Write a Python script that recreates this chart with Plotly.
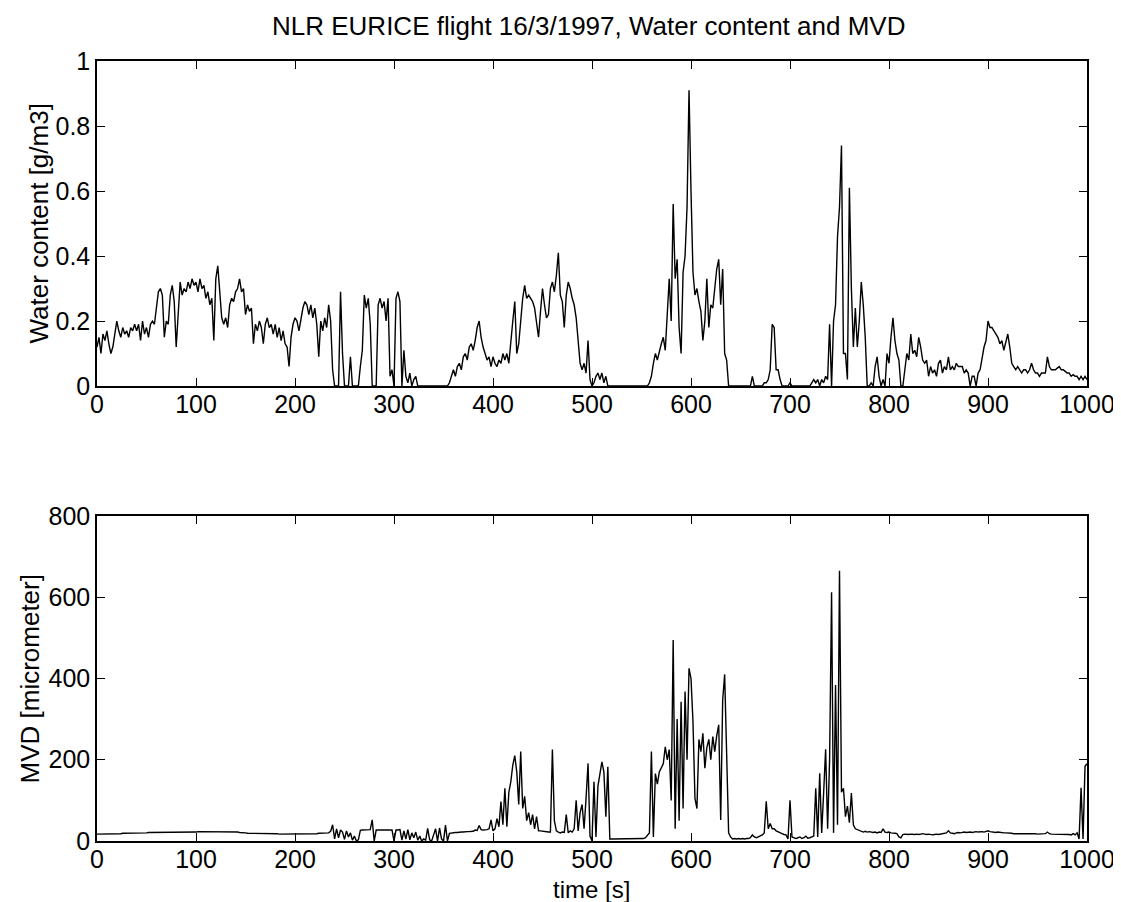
import plotly.graph_objects as go

# sample times [s] (2 s grid, 0..1000)
time_s = [2 * i for i in range(501)]

# Water content [g/m3], one row = 20 s
water_content = [
    0.12, 0.15, 0.10, 0.16, 0.14, 0.17, 0.13, 0.10, 0.12, 0.16,
    0.20, 0.17, 0.15, 0.18, 0.16, 0.17, 0.15, 0.18, 0.17, 0.19,
    0.17, 0.19, 0.14, 0.20, 0.16, 0.18, 0.15, 0.19, 0.20, 0.19,
    0.24, 0.29, 0.30, 0.28, 0.15, 0.20, 0.19, 0.28, 0.31, 0.26,
    0.12, 0.22, 0.32, 0.28, 0.30, 0.29, 0.32, 0.30, 0.33, 0.31,
    0.32, 0.29, 0.33, 0.30, 0.31, 0.27, 0.29, 0.25, 0.27, 0.14,
    0.33, 0.37, 0.30, 0.21, 0.19, 0.21, 0.18, 0.25, 0.27, 0.26,
    0.29, 0.30, 0.33, 0.29, 0.30, 0.22, 0.25, 0.23, 0.24, 0.13,
    0.19, 0.17, 0.20, 0.18, 0.13, 0.19, 0.21, 0.18, 0.19, 0.16,
    0.19, 0.15, 0.18, 0.14, 0.17, 0.13, 0.12, 0.06, 0.15, 0.19,
    0.21, 0.20, 0.17, 0.21, 0.24, 0.26, 0.25, 0.22, 0.25, 0.21,
    0.24, 0.19, 0.09, 0.20, 0.17, 0.21, 0.18, 0.25, 0.20, 0.05,
    0.00, 0.00, 0.00, 0.29, 0.10, 0.00, 0.00, 0.00, 0.09, 0.00,
    0.00, 0.00, 0.00, 0.06, 0.11, 0.28, 0.24, 0.27, 0.19, 0.00,
    0.00, 0.00, 0.25, 0.27, 0.24, 0.26, 0.20, 0.27, 0.03, 0.05,
    0.00, 0.27, 0.29, 0.26, 0.00, 0.11, 0.03, 0.01, 0.04, 0.00,
    0.02, 0.03, 0.00, 0.00, 0.00, 0.00, 0.00, 0.00, 0.00, 0.00,
    0.00, 0.00, 0.00, 0.00, 0.00, 0.00, 0.00, 0.00, 0.01, 0.03,
    0.05, 0.03, 0.06, 0.07, 0.05, 0.09, 0.10, 0.08, 0.12, 0.13,
    0.11, 0.14, 0.18, 0.20, 0.15, 0.12, 0.10, 0.08, 0.09, 0.06,
    0.09, 0.07, 0.06, 0.08, 0.07, 0.10, 0.08, 0.10, 0.07, 0.15,
    0.20, 0.26, 0.10, 0.13, 0.20, 0.27, 0.31, 0.27, 0.28, 0.27,
    0.26, 0.24, 0.19, 0.15, 0.23, 0.30, 0.25, 0.21, 0.22, 0.30,
    0.32, 0.29, 0.34, 0.41, 0.28, 0.26, 0.18, 0.28, 0.32, 0.30,
    0.27, 0.25, 0.21, 0.15, 0.07, 0.05, 0.07, 0.04, 0.14, 0.02,
    0.00, 0.01, 0.03, 0.04, 0.02, 0.04, 0.01, 0.03, 0.00, 0.00,
    0.00, 0.00, 0.00, 0.00, 0.00, 0.00, 0.00, 0.00, 0.00, 0.00,
    0.00, 0.00, 0.00, 0.00, 0.00, 0.00, 0.00, 0.00, 0.00, 0.01,
    0.03, 0.07, 0.10, 0.08, 0.11, 0.13, 0.15, 0.11, 0.22, 0.33,
    0.20, 0.56, 0.33, 0.39, 0.18, 0.10, 0.35, 0.40, 0.55, 0.91,
    0.60, 0.35, 0.28, 0.30, 0.26, 0.23, 0.14, 0.20, 0.33, 0.18,
    0.25, 0.24, 0.30, 0.36, 0.39, 0.25, 0.36, 0.10, 0.08, 0.00,
    0.00, 0.00, 0.00, 0.00, 0.00, 0.00, 0.00, 0.00, 0.00, 0.00,
    0.00, 0.03, 0.00, 0.00, 0.00, 0.00, 0.00, 0.01, 0.01, 0.02,
    0.05, 0.19, 0.18, 0.05, 0.05, 0.02, 0.00, 0.00, 0.00, 0.00,
    0.01, 0.00, 0.00, 0.00, 0.00, 0.00, 0.00, 0.00, 0.00, 0.00,
    0.00, 0.01, 0.02, 0.01, 0.02, 0.00, 0.02, 0.01, 0.03, 0.02,
    0.19, 0.00, 0.20, 0.25, 0.46, 0.55, 0.74, 0.10, 0.10, 0.02,
    0.61, 0.30, 0.12, 0.24, 0.12, 0.20, 0.32, 0.25, 0.15, 0.00,
    0.00, 0.01, 0.00, 0.06, 0.09, 0.03, 0.00, 0.02, 0.00, 0.10,
    0.07, 0.15, 0.21, 0.14, 0.10, 0.08, 0.00, 0.00, 0.05, 0.10,
    0.08, 0.16, 0.10, 0.11, 0.09, 0.15, 0.12, 0.08, 0.07, 0.08,
    0.03, 0.06, 0.04, 0.05, 0.03, 0.07, 0.08, 0.04, 0.06, 0.05,
    0.09, 0.05, 0.06, 0.05, 0.07, 0.06, 0.06, 0.06, 0.04, 0.05,
    0.04, 0.00, 0.03, 0.03, 0.00, 0.04, 0.05, 0.09, 0.12, 0.14,
    0.20, 0.18, 0.18, 0.17, 0.16, 0.15, 0.13, 0.14, 0.11, 0.14,
    0.16, 0.12, 0.07, 0.06, 0.05, 0.06, 0.05, 0.04, 0.05, 0.05,
    0.04, 0.05, 0.07, 0.05, 0.04, 0.04, 0.03, 0.04, 0.04, 0.04,
    0.09, 0.06, 0.05, 0.05, 0.05, 0.055, 0.06, 0.05, 0.05, 0.045,
    0.04, 0.04, 0.03, 0.035, 0.03, 0.03, 0.02, 0.03, 0.02, 0.03,
    0.02,
]

# MVD [micrometer], one row = 20 s
mvd_um = [
    17, 17, 17, 18, 18, 18, 18, 18, 18, 18,
    18, 18, 18, 19, 19, 19, 19, 19, 19, 20,
    20, 20, 20, 20, 20, 20, 21, 21, 21, 21,
    21, 21, 21, 21, 22, 22, 22, 22, 22, 22,
    22, 22, 22, 22, 22, 21, 21, 21, 21, 21,
    22, 23, 23, 23, 23, 23, 23, 23, 23, 23,
    23, 23, 23, 23, 23, 23, 23, 23, 23, 23,
    23, 22, 21, 21, 20, 20, 19, 19, 19, 18,
    18, 18, 18, 18, 18, 18, 18, 18, 18, 18,
    18, 18, 17, 17, 17, 17, 17, 17, 17, 17,
    17, 17, 17, 17, 17, 17, 18, 18, 18, 18,
    18, 18, 19, 19, 19, 19, 19, 20, 24, 40,
    5, 30, 8, 27, 22, 4, 25, 10, 20, 2,
    12, 0, 3, 26, 27, 27, 27, 27, 28, 52,
    0, 27, 27, 27, 27, 27, 27, 27, 27, 27,
    0, 27, 27, 28, 2, 25, 5, 28, 3, 20,
    8, 22, 2, 12, 0, 5, 2, 31, 3, 0,
    15, 30, 0, 32, 5, 0, 39, 0, 19, 20,
    20, 21, 21, 22, 22, 22, 23, 23, 23, 23,
    24, 27, 26, 38, 28, 27, 27, 28, 30, 52,
    25, 30, 55, 35, 97, 40, 130, 35, 120, 146,
    187, 210, 170, 90, 220, 80, 110, 50, 70, 40,
    65, 30, 60, 25, 25, 24, 23, 22, 22, 22,
    225, 50, 25, 22, 20, 22, 21, 65, 20, 25,
    22, 30, 100, 25, 70, 90, 30, 105, 191, 12,
    0, 146, 10, 135, 170, 195, 170, 60, 183, 5,
    5, 5, 5, 5, 5, 5, 5, 5, 5, 5,
    5, 5, 5, 5, 5, 5, 6, 8, 15, 20,
    220, 10, 166, 140, 170, 180, 190, 232, 200, 225,
    100, 495, 30, 300, 50, 343, 80, 368, 200, 425,
    400, 294, 105, 80, 250, 220, 265, 179, 230, 250,
    200, 257, 220, 260, 286, 52, 347, 410, 179, 20,
    10, 5, 6, 5, 6, 5, 6, 5, 6, 6,
    8, 15, 10, 8, 10, 12, 15, 20, 98, 30,
    43, 30, 30, 25, 22, 20, 18, 16, 15, 5,
    100, 10, 8, 6, 8, 10, 6, 8, 12, 7,
    8, 10, 12, 130, 10, 167, 20, 120, 226, 30,
    200, 612, 20, 384, 40, 665, 120, 130, 60, 86,
    45, 118, 40, 30, 28, 26, 25, 22, 24, 22,
    23, 22, 21, 22, 20, 22, 21, 30, 22, 21,
    22, 20, 20, 19, 18, 10, 8, 16, 17, 16,
    16, 17, 16, 16, 17, 16, 17, 18, 17, 16,
    17, 16, 15, 16, 17, 16, 17, 18, 19, 20,
    25, 20, 19, 18, 20, 21, 20, 21, 22, 21,
    22, 22, 21, 22, 23, 22, 23, 23, 22, 23,
    25, 23, 22, 22, 21, 22, 21, 21, 20, 20,
    20, 19, 19, 18, 18, 18, 19, 18, 18, 18,
    18, 18, 18, 18, 18, 17, 17, 18, 17, 18,
    22, 18, 17, 17, 17, 16, 16, 17, 16, 16,
    16, 16, 15, 18, 15, 20, 5, 131, 5, 184,
    190,
]

title_text = "NLR EURICE flight 16/3/1997, Water content and MVD"
ylabel_top = "Water content [g/m3]"
ylabel_bottom = "MVD [micrometer]"
xlabel = "time [s]"

FONT = "Liberation Sans, Arial, Helvetica, sans-serif"

fig = go.Figure()
fig.add_trace(go.Scatter(x=time_s, y=water_content, mode="lines",
                         line=dict(color="black", width=1.4),
                         xaxis="x", yaxis="y", showlegend=False))
fig.add_trace(go.Scatter(x=time_s, y=mvd_um, mode="lines",
                         line=dict(color="black", width=1.4),
                         xaxis="x2", yaxis="y2", showlegend=False))

axis_common = dict(
    showline=True, linecolor="black", linewidth=1.5, mirror="ticks",
    ticks="inside", ticklen=8, tickwidth=1.3, tickcolor="black",
    showgrid=False, zeroline=False,
    tickfont=dict(family=FONT, size=25, color="black"),
)

fig.update_layout(
    width=1121, height=902,
    paper_bgcolor="white", plot_bgcolor="white",
    margin=dict(l=89, r=42, t=53, b=69),
    font=dict(family=FONT, color="black"),
    xaxis=dict(domain=[0, 1], range=[0, 1000], dtick=100, anchor="y",
               ticklabelstandoff=-5, **axis_common),
    yaxis=dict(domain=[0.5833, 1], range=[0, 1], dtick=0.2, anchor="x", **axis_common),
    xaxis2=dict(domain=[0, 1], range=[0, 1000], dtick=100, anchor="y2",
                ticklabelstandoff=-5, **axis_common),
    yaxis2=dict(domain=[0, 0.4167], range=[0, 800], dtick=200, anchor="x2", **axis_common),
    annotations=[
        dict(text=title_text, xref="paper", yref="paper", x=0.496, y=1.0449,
             xanchor="center", yanchor="middle", showarrow=False,
             font=dict(family=FONT, size=26, color="black")),
        dict(text=ylabel_top, xref="paper", yref="paper", x=-0.0586, y=0.7917,
             xanchor="center", yanchor="middle", textangle=-90, showarrow=False,
             font=dict(family=FONT, size=26, color="black")),
        dict(text=ylabel_bottom, xref="paper", yref="paper", x=-0.0677, y=0.2083,
             xanchor="center", yanchor="middle", textangle=-90, showarrow=False,
             font=dict(family=FONT, size=26, color="black")),
        dict(text=xlabel, xref="paper", yref="paper", x=0.499, y=-0.0625,
             xanchor="center", yanchor="middle", showarrow=False,
             font=dict(family=FONT, size=24, color="black")),
    ],
)

fig.write_html("out.html")
